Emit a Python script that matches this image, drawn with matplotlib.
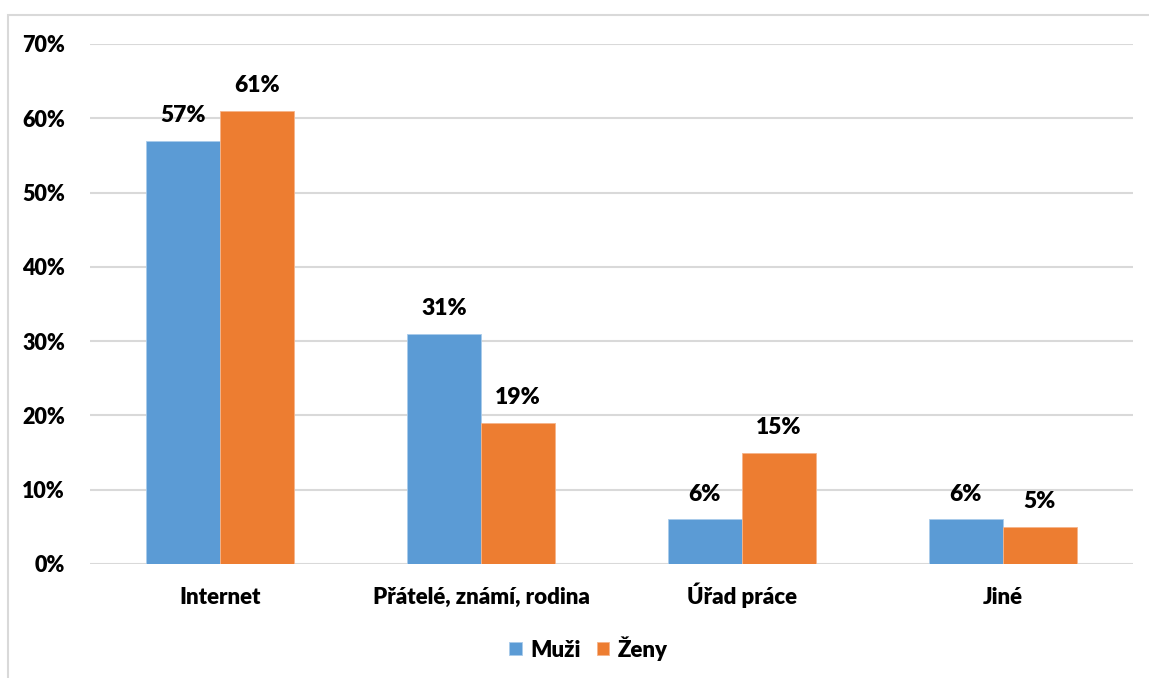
import numpy as np
import matplotlib.pyplot as plt
from matplotlib.patches import Rectangle
from matplotlib.ticker import FuncFormatter

categories = ['Internet', 'Přátelé, známí, rodina', 'Úřad práce', 'Jiné']
muzi = [57, 31, 6, 6]
zeny = [61, 19, 15, 5]
yticks = [0, 10, 20, 30, 40, 50, 60, 70]

plt.rcParams['font.family'] = ['Lato', 'DejaVu Sans']
plt.rcParams['font.weight'] = 'heavy'

fig = plt.figure(figsize=(11.49, 6.78), dpi=100)
ax = fig.add_axes([90/1149, 1 - 564/678, 1043/1149, 520/678])

# light chart-area frame
fig.patches.append(Rectangle((8/1149, -0.1), 1.2, 1 - 15/678 + 0.1,
                             transform=fig.transFigure, fill=False,
                             edgecolor='#d9d9d9', linewidth=1.5))

x = np.arange(len(categories))
w = 0.284
b1 = ax.bar(x - w/2, muzi, w, color='#5B9BD5', edgecolor='#a9cbeb', linewidth=0.6, label='Muži', zorder=3)
b2 = ax.bar(x + w/2, zeny, w, color='#ED7D31', edgecolor='#f5b48a', linewidth=0.6, label='Ženy', zorder=3)

for bars, vals in ((b1, muzi), (b2, zeny)):
    for bar, v in zip(bars, vals):
        ax.annotate(f'{v}%', (bar.get_x() + bar.get_width()/2, v),
                    xytext=(0, 10.5), textcoords='offset points',
                    ha='center', va='bottom', fontsize=16.5, fontweight='heavy')

ax.set_xlim(-0.5, 3.5)
ax.set_ylim(0, 70)
ax.set_yticks(yticks)
ax.yaxis.set_major_formatter(FuncFormatter(lambda v, p: f'{v:.0f}%'))
ax.set_xticks(x)
ax.set_xticklabels(categories)
ax.tick_params(axis='y', length=0, labelsize=15.5, pad=18)
ax.tick_params(axis='x', length=0, labelsize=16, pad=29)
for lbl in ax.get_xticklabels():
    lbl.set_verticalalignment('baseline')
ax.grid(axis='y', color='#d9d9d9', linewidth=1.5, zorder=0)
for s in ax.spines.values():
    s.set_visible(False)

ax.legend(loc='upper center', bbox_to_anchor=(0.478, -0.1), ncol=2, frameon=False,
          fontsize=16, handlelength=0.55, handleheight=0.55, handletextpad=0.4,
          columnspacing=0.7)

fig.savefig('out.png', dpi=100)
